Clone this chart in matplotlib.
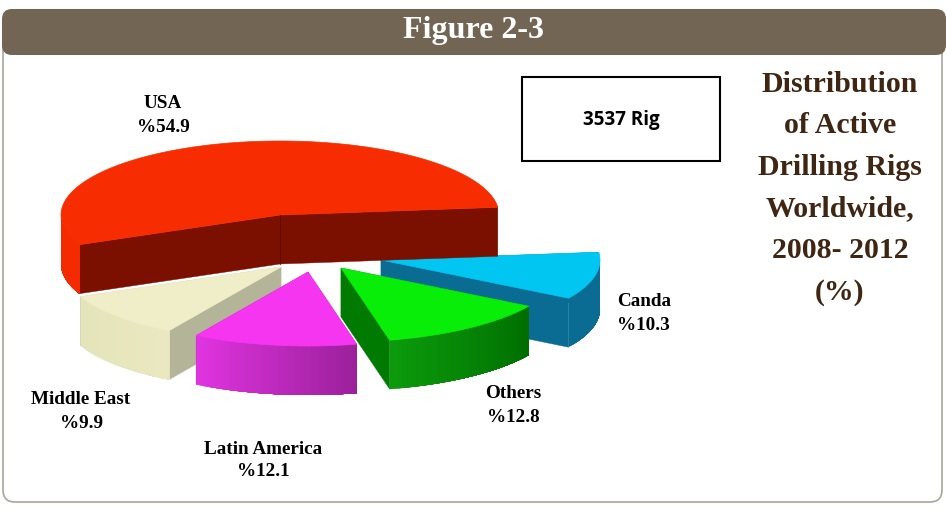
"""Figure 2-3: exploded 3D pie of active drilling rigs by region.

Pie drawn by hand on a pixel-sized axes, one polygon per face.
"""
import matplotlib
matplotlib.use('Agg')
import matplotlib.pyplot as plt
import numpy as np
from matplotlib.colors import to_rgb
from matplotlib.patches import FancyBboxPatch, Polygon, Rectangle

# data, in pie order (counter clockwise from the start angle)
REGIONS = ['USA', 'Middle East', 'Latin America', 'Others', 'Canda']
SHARES = [54.9, 9.9, 12.1, 12.8, 10.3]
TITLE_LINES = ['Distribution', 'of Active', 'Drilling Rigs', 'Worldwide,', '2008- 2012', '(%)']

# colours per region: top face, cut face, outer wall start and end
TOP_COLORS = ['#f72c00', '#efeec8', '#f635f0', '#08ee08', '#02c6f2']
CUT_COLORS = ['#7c1000', '#b4b498', '#a022a0', '#007a00', '#0a6c92']
WALL_START = ['#f52b00', '#e4e4ba', '#e034e0', '#0c9a0c', '#0a6c92']
WALL_END = ['#f52b00', '#e9e8c0', '#9c209c', '#006e00', '#0a6c92']

# pie geometry, in pixels
CENTER = (280, 215)
EXPLODE = [(0, 0), (1, 52), (28, 57), (61, 53), (101, 45)]
RX, RY = 219, 74
DEPTH = 49
START_ANGLE = 6
DRAW_ORDER = [4, 3, 1, 2, 0]

# label anchors: (x, y of name, y of value, ha)
LABEL_POS = {
    'USA': (163, 104, 127, 'center'),
    'Middle East': (81, 399, 423, 'center'),
    'Latin America': (263, 449, 472, 'center'),
    'Others': (513, 394, 417, 'center'),
    'Canda': (617, 302, 325, 'left'),
}

SERIF = 'Liberation Serif'


def arc(cx, cy, a0, a1, n=80):
    t = np.radians(np.linspace(a0, a1, n))
    return np.column_stack([cx + RX * np.cos(t), cy - RY * np.sin(t)])


def draw_slice(ax, i, a0, a1):
    cx = CENTER[0] + EXPLODE[i][0]
    cy = CENTER[1] + EXPLODE[i][1]
    down = np.array([0, DEPTH])

    # the two cut faces, painted first so the top hides what is behind
    for a in (a0, a1):
        edge = arc(cx, cy, a, a, 1)[0]
        apex = np.array([cx, cy])
        pts = [apex, edge, edge + down, apex + down]
        ax.add_patch(Polygon(pts, fc=CUT_COLORS[i], ec=CUT_COLORS[i], lw=0.3))

    # outer wall, front half only. Each strip runs to the far end of the wall
    # and the next one paints over it, so no seams show in the shading
    w0, w1 = max(a0, 180), min(a1, 360)
    if w1 > w0:
        edges = np.linspace(w0, w1, 41)
        c0, c1 = np.array(to_rgb(WALL_START[i])), np.array(to_rgb(WALL_END[i]))
        for k in range(len(edges) - 1):
            top = arc(cx, cy, edges[k], w1, 40)
            pts = np.vstack([top, top[::-1] + down])
            col = c0 + (c1 - c0) * k / (len(edges) - 2)
            ax.add_patch(Polygon(pts, fc=col, ec='none'))

    top = np.vstack([[cx, cy], arc(cx, cy, a0, a1, 160)])
    ax.add_patch(Polygon(top, fc=TOP_COLORS[i], ec=TOP_COLORS[i], lw=0.5))

    # seam under the apex
    if i == 0:
        ax.plot([cx, cx], [cy, cy + DEPTH], color='#5a0c00', lw=0.6)


def main():
    fig = plt.figure(figsize=(9.46, 5.07), dpi=100)
    ax = fig.add_axes([0, 0, 1, 1])
    ax.set_xlim(0, 946)
    ax.set_ylim(507, 0)
    ax.axis('off')

    # frame and header band
    ax.add_patch(FancyBboxPatch((3, 24), 939, 478, boxstyle='round,pad=0,rounding_size=12',
                                fc='white', ec='#aaa59c', lw=1.2))
    ax.add_patch(FancyBboxPatch((2, 9), 944, 46, boxstyle='round,pad=0,rounding_size=10',
                                fc='#726554', ec='none'))
    ax.text(473, 30.5, 'Figure 2-3', color='white', family=SERIF, fontweight='bold',
            fontsize=23, ha='center', va='center')

    # slice angles come from the shares
    stops = START_ANGLE + np.cumsum([0] + SHARES) * 360 / sum(SHARES)
    for i in DRAW_ORDER:
        draw_slice(ax, i, stops[i], stops[i + 1])

    for name, share in zip(REGIONS, SHARES):
        x, y0, y1, ha = LABEL_POS[name]
        ax.text(x, y0, name, family=SERIF, fontweight='bold', fontsize=13.8,
                ha=ha, va='center', color='black')
        ax.text(x, y1, f'%{share}', family=SERIF, fontweight='bold', fontsize=13.8,
                ha=ha, va='center', color='black')

    ax.add_patch(Rectangle((522, 77), 198, 84, fc='white', ec='black', lw=1.5))
    ax.text(621, 120, '3537 Rig', family='Open Sans', fontweight='bold', fontsize=13.5,
            ha='center', va='center', color='black')

    for k, line in enumerate(TITLE_LINES):
        ax.text(840, 84 + k * 41.6, line, family=SERIF, fontweight='bold', fontsize=21.5,
                ha='center', va='center', color='#3f2613')

    fig.savefig('out.png', dpi=100)
    plt.close(fig)


if __name__ == '__main__':
    main()
